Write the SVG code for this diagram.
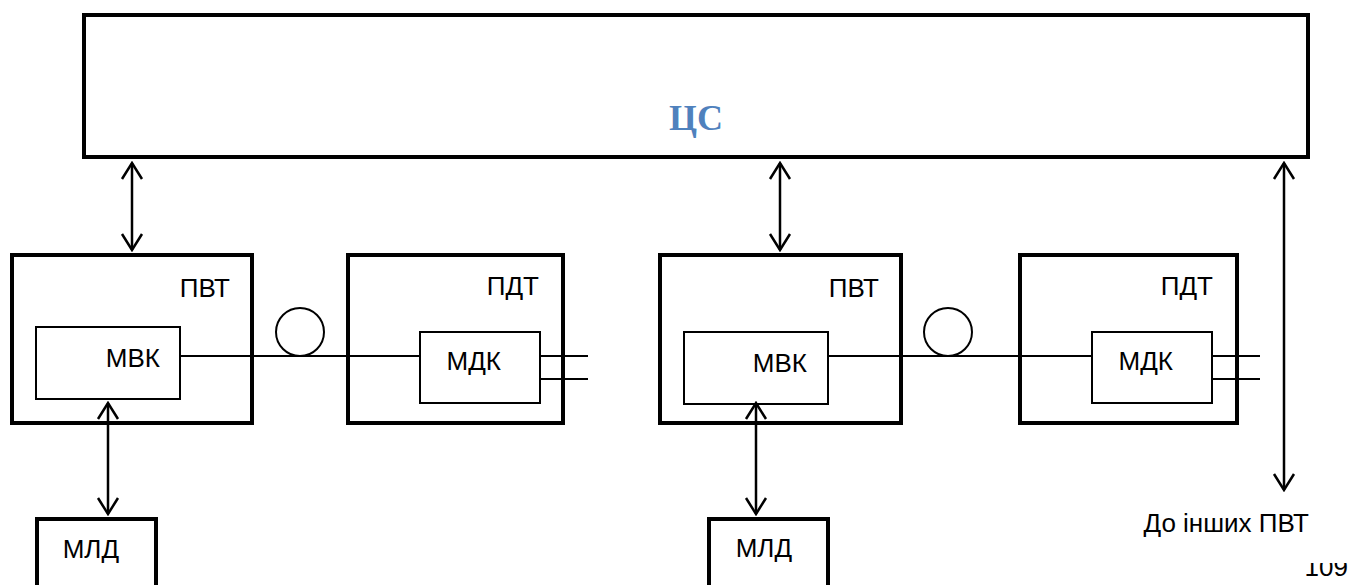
<svg xmlns="http://www.w3.org/2000/svg" width="1352" height="585" viewBox="0 0 1352 585">
<defs>
<style>
.box{fill:#fff;stroke:#000;stroke-width:4}
.inner{fill:#fff;stroke:#000;stroke-width:2}
.ln{fill:none;stroke:#000;stroke-width:2}
.arr{fill:none;stroke:#000;stroke-width:2.5;marker-start:url(#ah);marker-end:url(#ah)}
.t{font-family:"Liberation Sans",Arial,sans-serif;font-size:26px;fill:#000}
.cs{font-family:"Liberation Serif","Times New Roman",serif;font-weight:bold;font-size:36px;fill:#4F81BD}
</style>
<marker id="ah" viewBox="-17 -12 19 24" refX="0" refY="0" markerWidth="19" markerHeight="24" markerUnits="userSpaceOnUse" orient="auto-start-reverse">
<path d="M-16,-10 L0,0 L-16,10" fill="none" stroke="#000" stroke-width="2.5"/>
</marker>
<clipPath id="pgclip"><rect x="1290" y="563" width="62" height="22"/></clipPath>
</defs>
<rect width="1352" height="585" fill="#fff"/>

<g id="cs">
<rect class="box" x="84" y="15" width="1224" height="142"/>
<text class="cs" x="696" y="130" text-anchor="middle">ЦС</text>
</g>

<g id="pvt1">
<rect class="box" x="12" y="255" width="240" height="168"/>
<text class="t" x="230" y="297" text-anchor="end">ПВТ</text>
</g>
<g id="mvk1">
<rect class="inner" x="36" y="327" width="144" height="72"/>
<text class="t" x="160" y="367" text-anchor="end">МВК</text>
</g>

<g id="pdt1">
<rect class="box" x="348" y="255" width="215" height="168"/>
<text class="t" x="539" y="295" text-anchor="end">ПДТ</text>
</g>
<g id="mdk1">
<rect class="inner" x="420" y="332" width="120" height="71"/>
<text class="t" x="501" y="370" text-anchor="end">МДК</text>
</g>

<g id="pvt2">
<rect class="box" x="660" y="255" width="241" height="168"/>
<text class="t" x="879" y="297" text-anchor="end">ПВТ</text>
</g>
<g id="mvk2">
<rect class="inner" x="684" y="332" width="144" height="72"/>
<text class="t" x="807" y="372" text-anchor="end">МВК</text>
</g>

<g id="pdt2">
<rect class="box" x="1020" y="255" width="217" height="168"/>
<text class="t" x="1213" y="295" text-anchor="end">ПДТ</text>
</g>
<g id="mdk2">
<rect class="inner" x="1092" y="332" width="120" height="71"/>
<text class="t" x="1173" y="370" text-anchor="end">МДК</text>
</g>

<g id="mld1">
<rect class="box" x="37" y="519" width="119" height="80"/>
<text class="t" x="119" y="558" text-anchor="end">МЛД</text>
</g>
<g id="mld2">
<rect class="box" x="709" y="519" width="119" height="80"/>
<text class="t" x="792" y="557" text-anchor="end">МЛД</text>
</g>

<g id="other">
<text class="t" x="1309" y="532" text-anchor="end">До інших ПВТ</text>
</g>
<g id="page">
<text class="t" x="1348" y="576" text-anchor="end" clip-path="url(#pgclip)">109</text>
</g>

<g id="connectors">
<line class="ln" x1="180" y1="356" x2="420" y2="356"/>
<circle class="ln" cx="300" cy="332" r="24"/>
<line class="ln" x1="540" y1="356" x2="588" y2="356"/>
<line class="ln" x1="540" y1="379" x2="588" y2="379"/>
<line class="ln" x1="828" y1="356" x2="1092" y2="356"/>
<circle class="ln" cx="948" cy="332" r="24"/>
<line class="ln" x1="1212" y1="356" x2="1260" y2="356"/>
<line class="ln" x1="1212" y1="379" x2="1260" y2="379"/>
<line class="arr" x1="132" y1="163" x2="132" y2="250"/>
<line class="arr" x1="780" y1="163" x2="780" y2="250"/>
<line class="arr" x1="1284" y1="163" x2="1284" y2="490"/>
<line class="arr" x1="108" y1="403" x2="108" y2="514"/>
<line class="arr" x1="756" y1="403" x2="756" y2="514"/>
</g>
</svg>
